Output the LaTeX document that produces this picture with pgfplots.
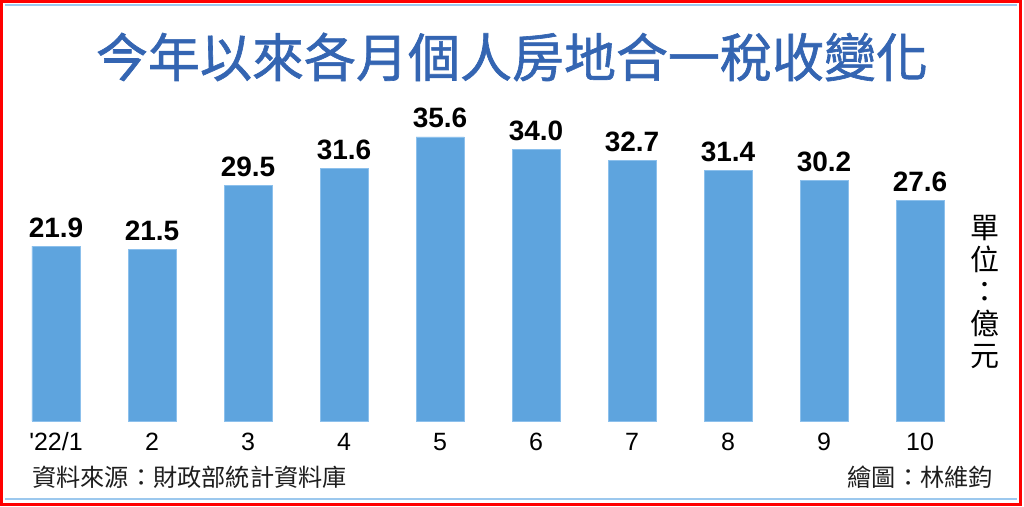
\documentclass[border=0pt]{standalone}
\usepackage{pgfplots}
\pgfplotsset{compat=1.18}
\usepackage{fontspec}
\setmainfont{Liberation Sans}
\newfontfamily\cjk{Noto Sans CJK TC}
\newfontfamily\cjktitle[FakeBold=1.2]{Noto Sans CJK TC}
\definecolor{barblue}{RGB}{94,164,222}
\definecolor{baredge}{RGB}{140,192,236}
\definecolor{titleblue}{RGB}{52,101,178}
\definecolor{lineblue}{RGB}{156,200,238}
\definecolor{txtgray}{RGB}{30,30,30}
\begin{document}
\begin{tikzpicture}
\path[use as bounding box] (0,0) rectangle (1024pt,506pt);
\fill[white] (0,0) rectangle (1024pt,506pt);
\draw[red, line width=3pt] (1.5pt,1.5pt) rectangle (1020.5pt,504.5pt);
\draw[lineblue, line width=2pt] (5pt,501pt) -- (1017pt,501pt);
\draw[lineblue, line width=2pt] (5pt,7pt) -- (1017pt,7pt);
\begin{axis}[
  at={(0pt,85pt)}, anchor=south west,
  scale only axis, width=1024pt, height=421pt,
  xmin=-0.58333, xmax=10.08333, ymin=0, ymax=52.757,
  axis line style={draw=none}, major tick length=0pt,
  ytick=\empty,
  xtick=data,
  xticklabels={{\textquotesingle22/1},2,3,4,5,6,7,8,9,10},
  xticklabel style={font=\fontsize{25}{25}\selectfont, anchor=base, yshift=-29pt, inner sep=0pt},
  xticklabel shift=0pt,
  /pgf/number format/assume math mode=true,
  clip=false,
  ybar, bar width=48pt,
  nodes near coords,
  nodes near coords style={font=\bfseries\fontsize{28}{28}\selectfont, anchor=base, yshift=9pt, inner sep=0pt,
    /pgf/number format/.cd, fixed, fixed zerofill, precision=1},
]
\addplot[fill=barblue, draw=baredge, line width=0.8pt] coordinates {
(0,21.9) (1,21.5) (2,29.5) (3,31.6) (4,35.6) (5,34.0) (6,32.7) (7,31.4) (8,30.2) (9,27.6)};
\end{axis}
\node[font=\cjktitle\fontsize{52}{52}\selectfont, text=titleblue] at (512pt,449pt) {今年以來各月個人房地合一稅收變化};
\node[font=\cjk\fontsize{29}{32}\selectfont, align=center, inner sep=0pt] at (985pt,214pt) {單\\位\\：\\億\\元};
\node[font=\cjk\fontsize{24.2}{24.2}\selectfont, text=txtgray, anchor=west, inner sep=0pt] at (32pt,29pt) {資料來源：財政部統計資料庫};
\node[font=\cjk\fontsize{24.2}{24.2}\selectfont, text=txtgray, anchor=east, inner sep=0pt] at (993pt,29pt) {繪圖：林維鈞};
\end{tikzpicture}
\end{document}
